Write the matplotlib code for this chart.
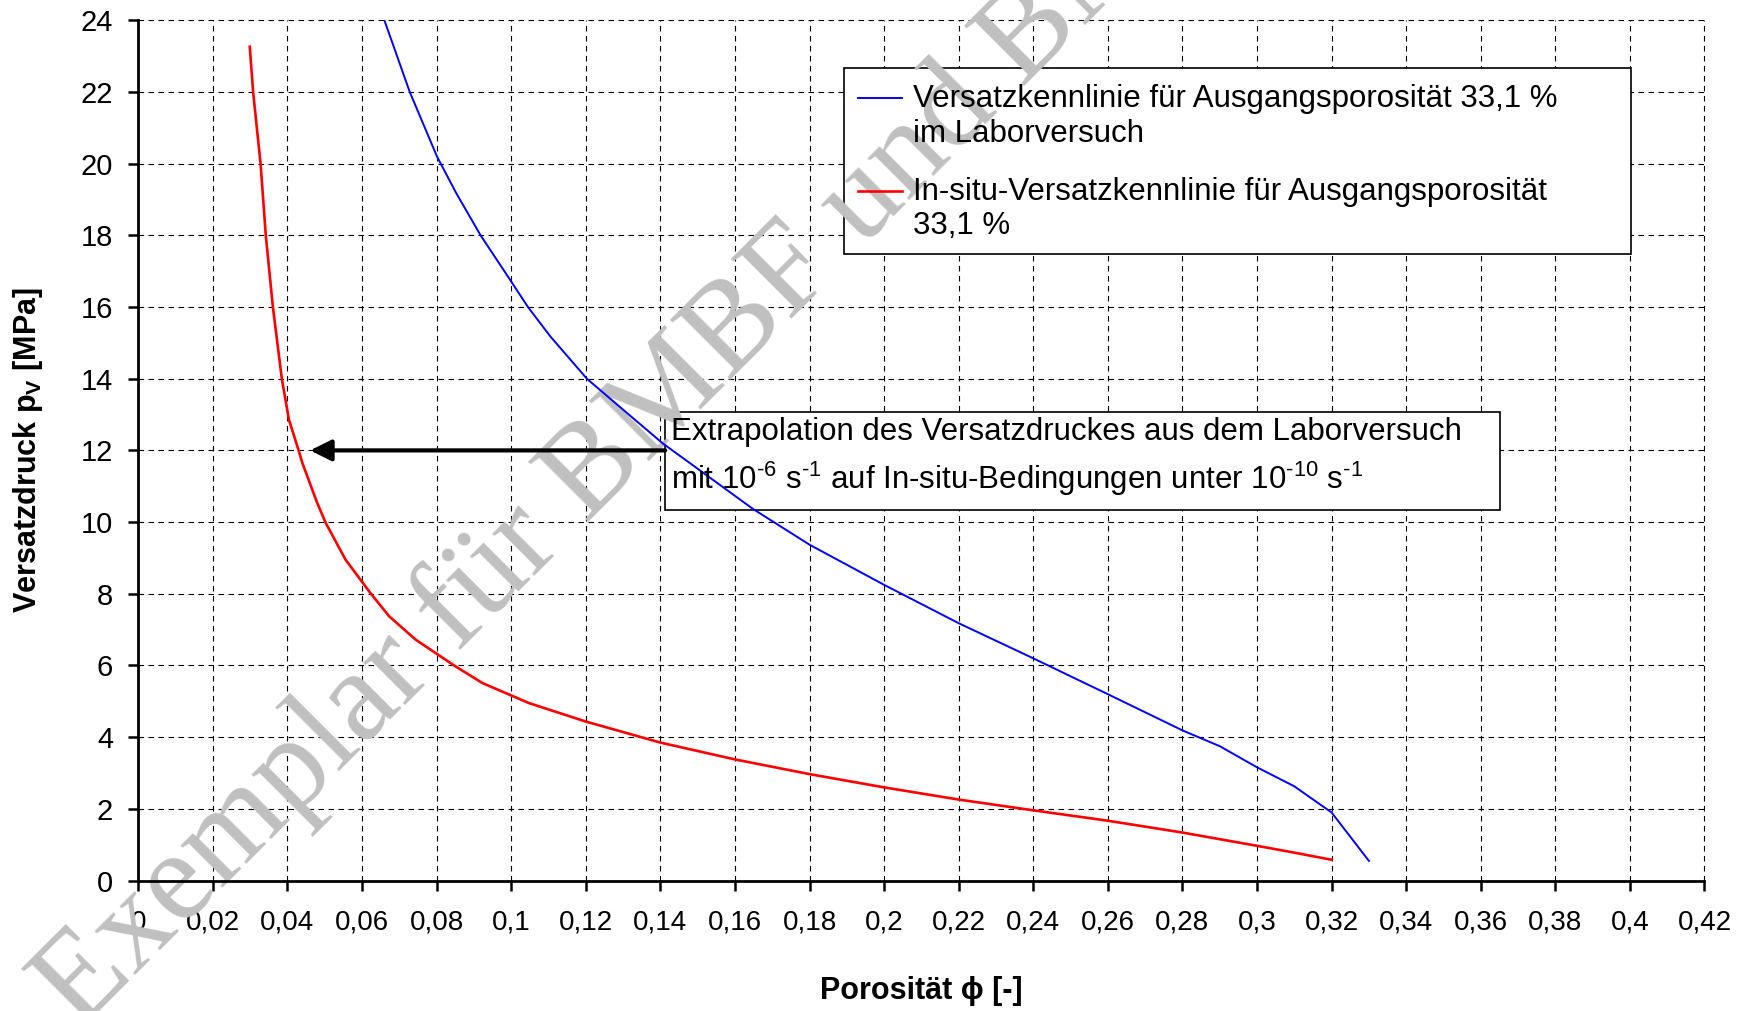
import matplotlib
matplotlib.use("Agg")
import matplotlib.pyplot as plt
from matplotlib.ticker import MultipleLocator, FuncFormatter
from matplotlib.patches import Rectangle
from matplotlib.legend_handler import HandlerLine2D

plt.rcParams['font.family'] = ['Liberation Sans', 'DejaVu Sans']
plt.rcParams['mathtext.fontset'] = 'custom'
plt.rcParams['mathtext.rm'] = 'Liberation Sans'
plt.rcParams['mathtext.it'] = 'Liberation Sans:italic'
plt.rcParams['mathtext.bf'] = 'Liberation Sans:bold'

# --- data ---
lab_phi = [0.0660, 0.0728, 0.0801, 0.0853, 0.0918, 0.0997, 0.1045, 0.1105, 0.1203,
           0.132, 0.1406, 0.1648, 0.18, 0.20, 0.22, 0.24, 0.26, 0.28, 0.29,
           0.30, 0.31, 0.32, 0.33]
lab_p = [24.0, 22.0, 20.2, 19.17, 18.0, 16.76, 16.0, 15.18, 14.0,
         12.96, 12.2, 10.37, 9.37, 8.25, 7.18, 6.2, 5.2, 4.19, 3.75,
         3.16, 2.63, 1.9, 0.55]

insitu_phi = [0.0299, 0.0308, 0.0328, 0.0342, 0.0361, 0.0385, 0.0404, 0.0430, 0.0440,
              0.0480, 0.0503, 0.0556, 0.0624, 0.0673, 0.0744, 0.0847, 0.0923, 0.1048,
              0.1199, 0.14, 0.16, 0.18, 0.20, 0.22, 0.24, 0.26, 0.28, 0.30, 0.31, 0.32]
insitu_p = [23.26, 22.0, 20.0, 18.0, 16.0, 14.0, 12.86, 12.0, 11.65,
            10.53, 9.97, 8.95, 8.0, 7.37, 6.72, 6.0, 5.51, 4.95,
            4.44, 3.85, 3.38, 2.97, 2.6, 2.26, 1.96, 1.67, 1.34, 0.97, 0.78, 0.58]

lab_label = "Versatzkennlinie für Ausgangsporosität 33,1 %\nim Laborversuch"
insitu_label = "In-situ-Versatzkennlinie für Ausgangsporosität\n33,1 %"

arrow_from = (0.1413, 12.0)
arrow_to = (0.0461, 12.0)
note_line1 = "Extrapolation des Versatzdruckes aus dem Laborversuch"
note_line2 = (r"mit 10$^{\text{-6}}$ s$^{\text{-1}}$ auf In-situ-Bedingungen "
              r"unter 10$^{\text{-10}}$ s$^{\text{-1}}$")

fs = 22.5
fs_lab = 22


class FirstLineHandler(HandlerLine2D):
    # put the legend line next to the first line of a two-line label
    def create_artists(self, legend, orig_handle, xdescent, ydescent, width, height,
                       fontsize, trans):
        shift = 0.6 * fontsize
        return super().create_artists(legend, orig_handle, xdescent, ydescent - 2 * shift,
                                      width, height, fontsize, trans)


fig = plt.figure(figsize=(17.5, 10.11), dpi=100)
ax = fig.add_axes([0.079, 0.129, 0.895, 0.851])

ax.plot(lab_phi, lab_p, color='#0000ff', lw=1.4, label=lab_label, zorder=4)
ax.plot(insitu_phi, insitu_p, color='#ff0000', lw=1.9, label=insitu_label, zorder=4)

ax.set_xlim(0, 0.42)
ax.set_ylim(0, 24)
ax.xaxis.set_major_locator(MultipleLocator(0.02))
ax.yaxis.set_major_locator(MultipleLocator(2))


def comma_fmt(v, pos):
    s = f"{v:.2f}".rstrip('0').rstrip('.')
    return s.replace('.', ',')


ax.xaxis.set_major_formatter(FuncFormatter(comma_fmt))
ax.yaxis.set_major_formatter(FuncFormatter(lambda v, p: f"{v:.0f}"))

ax.grid(True, color='black', linestyle=(0, (5, 4)), linewidth=0.8)
ax.set_axisbelow(True)
for side in ['top', 'right']:
    ax.spines[side].set_visible(False)
for side in ['left', 'bottom']:
    ax.spines[side].set_linewidth(2)
ax.tick_params(axis='both', direction='out', length=7, width=1.8)
ax.tick_params(axis='x', pad=14, labelsize=20)
ax.tick_params(axis='y', pad=11, labelsize=21)

ax.set_xlabel("Porosität ϕ [-]", fontsize=fs_lab, fontweight='bold', labelpad=29)
ax.set_ylabel(r"Versatzdruck p$_{\mathbf{V}}$ [MPa]", fontsize=fs_lab, fontweight='bold',
              labelpad=26)

# arrow + note box
ax.annotate('', xy=arrow_to, xytext=arrow_from,
            arrowprops=dict(arrowstyle='-|>', color='black', lw=3, mutation_scale=32,
                            shrinkA=0, shrinkB=0), zorder=6)
ax.add_patch(Rectangle((0.1413, 10.34), 0.2239, 2.73, facecolor='white',
                       edgecolor='black', lw=1.2, zorder=2.2))
ax.text(0.1428, 12.52, note_line1, fontsize=fs, ha='left', va='center', zorder=7)
ax.text(0.1428, 11.22, note_line2, fontsize=fs, ha='left', va='center', zorder=7)

# legend: white frame drawn separately so the watermark sits over it
ax.add_patch(Rectangle((0.4505, 0.728), 0.5025, 0.217, transform=ax.transAxes,
                       facecolor='white', edgecolor='black', lw=1.2, zorder=2.2))
leg = ax.legend(loc='upper left', bbox_to_anchor=(0.4595, 0.9255), fontsize=fs,
                frameon=False, handlelength=1.4, handletextpad=0.35, labelspacing=0.89,
                borderpad=0, borderaxespad=0,
                handler_map={plt.Line2D: FirstLineHandler()})
leg.set_zorder(8)

# watermark
ax.text(0.045, -0.02, "Exemplar für BMBF und BMWi", transform=fig.transFigure,
        family='Liberation Serif', fontsize=93, color='#c0c0c0', rotation=45,
        rotation_mode='anchor', ha='left', va='baseline', zorder=2.4, clip_on=False)

fig.savefig("out.png", dpi=100)
